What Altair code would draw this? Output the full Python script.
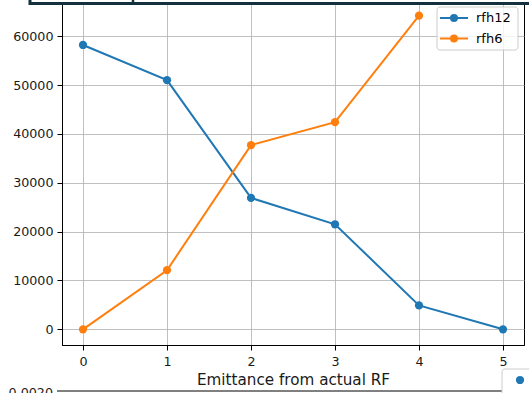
import altair as alt
import pandas as pd

# Scan positions and the two RF series
steps = [0, 1, 2, 3, 4, 5]
rfh12 = [58200, 51000, 26900, 21500, 4900, 0]
rfh6 = [0, 12100, 37700, 42400, 64200]
series_names = ["rfh12", "rfh6"]
series_colors = ["#1f77b4", "#ff7f0e"]
y_ticks = [0, 10000, 20000, 30000, 40000, 50000, 60000]
x_ticks = [0, 1, 2, 3, 4, 5]
x_title = "Emittance from actual RF"
next_panel_tick = "0.0020"

rows = [{"step": s, "value": v, "series": "rfh12"} for s, v in zip(steps, rfh12)]
rows += [{"step": s, "value": v, "series": "rfh6"} for s, v in zip(steps, rfh6)]
df = pd.DataFrame(rows)

# matplotlib-style 5% data margins
all_vals = rfh12 + rfh6
y_span = max(all_vals) - min(all_vals)
y_dom = [min(all_vals) - 0.05 * y_span, max(all_vals) + 0.05 * y_span]
x_span = max(steps) - min(steps)
x_dom = [min(steps) - 0.05 * x_span, max(steps) + 0.05 * x_span]

W, H = 462, 345
FONT = "DejaVu Sans"
TICK_FS = 12.7
TITLE_FS = 15.2
LEG_FS = 13
INK = "#1a1a1a"
LINE_W = 2

# legend handle: a short line with a filled marker in the middle
handle_path = ("M-2,0L2,0M-0.43,0A0.43,0.43,0,1,1,0.43,0"
               "A0.43,0.43,0,1,1,-0.43,0Z")
legend_def = alt.Legend(
    title=None, orient="none", legendX=384, legendY=10,
    symbolType=handle_path, symbolSize=196, symbolStrokeWidth=LINE_W,
    labelFont=FONT, labelFontSize=LEG_FS, labelColor="#000000", labelOffset=14,
    padding=0, rowPadding=4.5, zindex=2,
)
color_enc = alt.Color("series:N", scale=alt.Scale(domain=series_names, range=series_colors),
                      legend=legend_def)

base = alt.Chart(df).encode(
    x=alt.X("step:Q", scale=alt.Scale(domain=x_dom, nice=False, zero=False),
            axis=alt.Axis(values=x_ticks, format="d", title=x_title, labelPadding=5,
                          titlePadding=5)),
    y=alt.Y("value:Q", scale=alt.Scale(domain=y_dom, nice=False, zero=False),
            axis=alt.Axis(values=y_ticks, format="d", title=None, labelPadding=4)),
)

lines = base.mark_line(strokeWidth=LINE_W).encode(color=color_enc, detail="series:N")
points = base.mark_point(filled=True, size=68, opacity=1, shape="circle").encode(color=color_enc)

one = pd.DataFrame({"k": [0]})

# legend frame
legend_frame = alt.Chart(one).mark_rect(
    fill="white", fillOpacity=0.8, stroke="#cccccc", strokeWidth=1, cornerRadius=3
).encode(x=alt.value(375), x2=alt.value(456), y=alt.value(7), y2=alt.value(50))

# framed heading box running across the top edge
head_box = alt.Chart(one).mark_rect(fill="white", stroke="#13303f", strokeWidth=3).encode(
    x=alt.value(-32), x2=alt.value(480), y=alt.value(-20), y2=alt.value(3.5))
head_div = alt.Chart(one).mark_rule(color="#13303f", strokeWidth=2.5).encode(
    x=alt.value(71), y=alt.value(-20), y2=alt.value(3.5))

# top of the following panel
next_spine = alt.Chart(one).mark_rule(color="black", strokeWidth=1).encode(
    x=alt.value(0), x2=alt.value(440), y=alt.value(391))
next_tick = alt.Chart(one).mark_rule(color="black", strokeWidth=1).encode(
    x=alt.value(-5), x2=alt.value(0), y=alt.value(391))
next_label = alt.Chart(one).mark_text(
    text=next_panel_tick, align="right", baseline="middle", font=FONT, fontSize=TICK_FS, color=INK
).encode(x=alt.value(-9), y=alt.value(393))
next_legend = alt.Chart(one).mark_rect(
    fill="white", stroke="#cccccc", strokeWidth=1, cornerRadius=3
).encode(x=alt.value(440), x2=alt.value(490), y=alt.value(369), y2=alt.value(420))
next_dot = alt.Chart(one).mark_point(filled=True, size=68, opacity=1, color=series_colors[0]).encode(
    x=alt.value(458), y=alt.value(380))

chart = alt.layer(
    lines, points, legend_frame, head_box, head_div,
    next_spine, next_tick, next_label, next_legend, next_dot
).properties(
    width=W, height=H,
    autosize=alt.AutoSizeParams(type="none"),
    padding={"left": 62, "top": 0, "right": 5, "bottom": 48},
).configure_view(
    stroke="black", strokeWidth=1
).configure_axis(
    domainColor="black", domainWidth=1, tickColor="black", tickSize=5, tickWidth=1,
    labelFont=FONT, labelFontSize=TICK_FS, labelColor=INK,
    titleFont=FONT, titleFontSize=TITLE_FS, titleFontWeight="normal", titleColor=INK,
    grid=True, gridColor="#b0b0b0", gridWidth=0.8,
)

chart.save("out.html", embed_options={"renderer": "svg", "actions": False})
